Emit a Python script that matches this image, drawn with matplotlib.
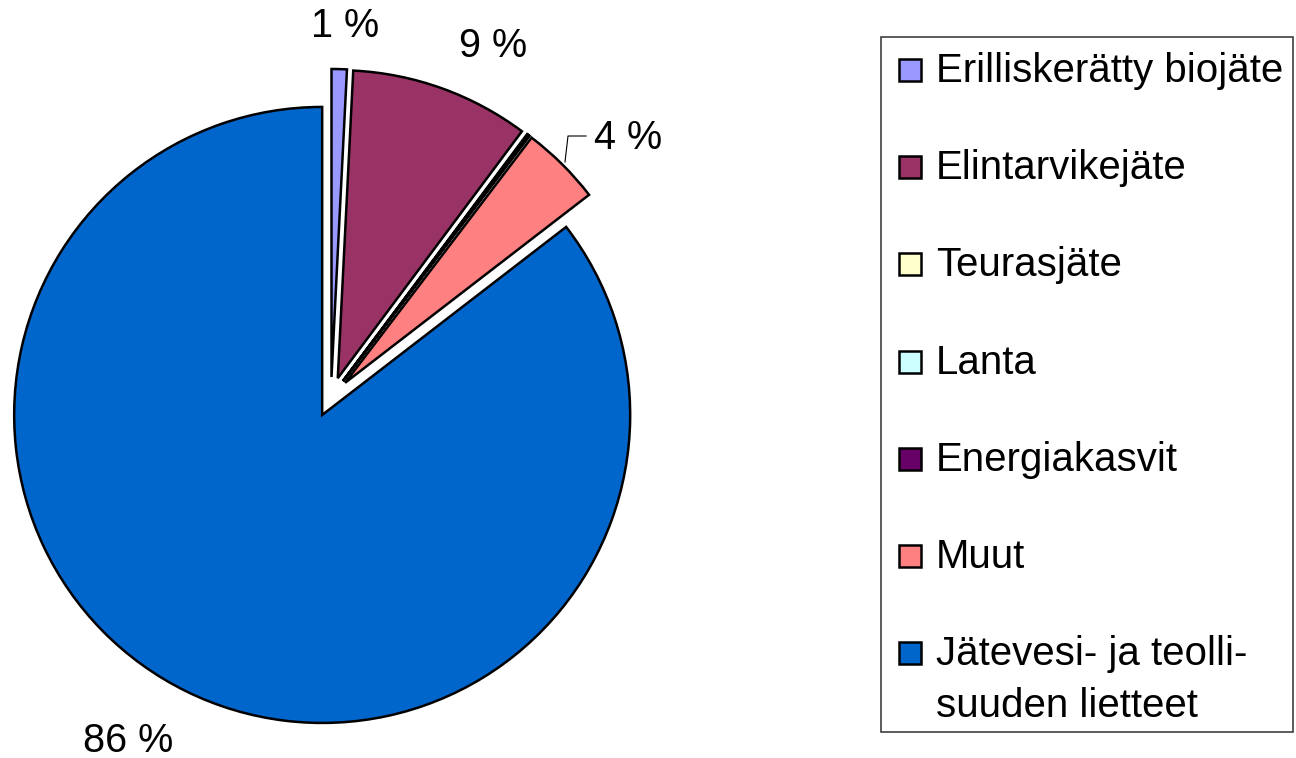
import matplotlib.pyplot as plt
from matplotlib.patches import Rectangle

plt.rcParams['font.family'] = ['Liberation Sans', 'DejaVu Sans']

categories = ['Erilliskerätty biojäte', 'Elintarvikejäte', 'Teurasjäte', 'Lanta',
              'Energiakasvit', 'Muut', 'Jätevesi- ja teolli-\nsuuden lietteet']
shares = [0.8, 9.4, 0.05, 0.05, 0.05, 4.2, 85.45]
pct_labels = ['1 %', '9 %', '', '', '', '4 %', '86 %']
colors = ['#9999FF', '#993366', '#FFFFCC', '#CCFFFF', '#660066', '#FF8080', '#0066CC']

W, H = 1296, 758
fig = plt.figure(figsize=(W / 100, H / 100), dpi=100)
# axes in pixel units (y up) so the pie sits where it does in the original
ax = fig.add_axes([0, 0, 1, 1])

cx, cy, r = 331, H - 397, 308
wedges, _ = ax.pie(shares, colors=colors, startangle=90, counterclock=False,
                   radius=r, center=(cx, cy), explode=[20] * len(shares),
                   wedgeprops=dict(edgecolor='black', linewidth=1.8))
ax.set_xlim(0, W)
ax.set_ylim(0, H)
ax.set_aspect('equal')
ax.axis('off')

# percentage labels
label_pos = {0: (345, 26), 1: (493, 46), 5: (628, 138), 6: (128, 741)}
for i, (x, y) in label_pos.items():
    ax.text(x, H - y, pct_labels[i], fontsize=28.5, ha='center', va='center')
# leader line for Muut
ax.plot([565, 568, 586], [H - 162, H - 136, H - 136], color='black', lw=0.8)

# legend drawn by hand (the last label's box sits on its first line)
ax.add_patch(Rectangle((881, H - 732), 412, 695, facecolor='white',
                       edgecolor='#404040', lw=1.2, zorder=3))
for i, (lab, col) in enumerate(zip(categories, colors)):
    yc = 70 + i * 97.2
    ax.add_patch(Rectangle((899, H - yc - 11), 22, 22, facecolor=col,
                           edgecolor='black', lw=1.8, zorder=4))
    for k, line in enumerate(lab.split('\n')):
        ax.text(936, H - yc - 12 - k * 52, line, fontsize=29, ha='left',
                va='baseline', zorder=4)

fig.savefig('out.png', dpi=100)
plt.close(fig)
